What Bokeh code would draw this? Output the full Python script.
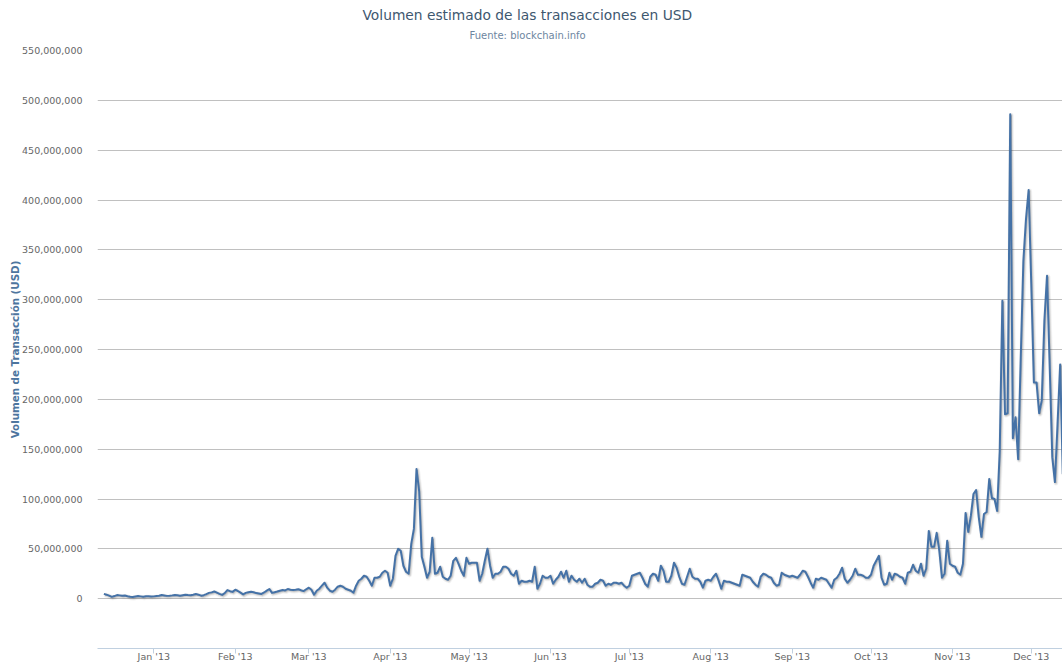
import numpy as np
import pandas as pd
from bokeh.plotting import figure
from bokeh.models import (Range1d, FixedTicker, NumeralTickFormatter,
                          DatetimeTickFormatter, MonthsTicker, Title)
from bokeh.embed import file_html
from bokeh.resources import INLINE

# Daily estimated transaction volume, millions of USD
start_date = "2012-12-13"
dec_2012 = [4.8, 4.0, 3.0, 1.8, 2.6, 3.6, 3.3, 2.9, 3.2, 2.5, 1.9, 1.7, 2.2, 2.6, 2.3, 2.0, 2.5, 2.4, 2.2]
jan_2013 = [2.3, 2.6, 2.9, 3.6, 3.2, 2.8, 3.0, 3.3, 3.7, 3.4, 3.0, 3.5, 4.0, 3.6, 3.4, 3.9, 4.6, 4.0, 3.0, 3.5,
            4.5, 5.8, 6.3, 7.2, 6.0, 4.8, 3.8, 5.5, 8.6, 7.5, 6.8]
feb_2013 = [9.0, 7.7, 6.0, 4.3, 5.8, 6.5, 7.0, 6.4, 5.6, 5.2, 4.7, 6.2, 8.0, 9.7, 5.8, 6.5, 7.2, 8.0, 8.7, 8.2,
            9.7, 9.0, 8.6, 8.9, 9.5, 8.4, 7.6, 9.4]
mar_2013 = [11, 9, 4, 8, 10, 13, 16, 11, 8, 7, 9, 12, 13, 12, 10, 9, 8, 6, 13, 18,
            20, 23, 22, 18, 13, 21, 21, 22, 26, 28, 26]
apr_2013 = [13, 20, 43, 50, 48, 33, 27, 25, 55, 70, 130, 108, 42, 32, 21, 27, 61, 25, 26, 32,
            22, 20, 19, 23, 38, 41, 35, 28, 23, 41]
may_2013 = [35, 36, 36, 36, 18, 25, 38, 50, 33, 21, 25, 25, 27, 32, 32, 30, 25, 23, 28, 15,
            18, 17, 17, 18, 17, 32, 10, 15, 23, 21, 21]
jun_2013 = [23, 15, 19, 22, 27, 21, 28, 17, 23, 19, 17, 20, 16, 20, 14, 12, 12, 15, 16, 19,
            18, 13, 15, 14, 16, 16, 15, 16, 13, 11]
jul_2013 = [13, 23, 24, 25, 26, 21, 15, 12, 22, 25, 24, 18, 33, 28, 17, 17, 23, 36, 31, 22,
            15, 14, 22, 30, 22, 20, 20, 17, 11, 18, 19]
aug_2013 = [18, 22, 25, 18, 10, 18, 17, 17, 16, 15, 14, 13, 24, 23, 22, 21, 17, 14, 12, 22,
            25, 24, 22, 21, 16, 13, 14, 26, 24, 23, 22]
sep_2013 = [23, 22, 21, 24, 28, 27, 22, 16, 11, 20, 19, 21, 20, 19, 15, 11, 19, 21, 25, 31,
            20, 16, 19, 23, 30, 24, 24, 23, 21, 21]
oct_2013 = [24, 33, 38, 43, 21, 14, 15, 26, 19, 25, 24, 22, 21, 15, 26, 27, 34, 28, 26, 35,
            23, 30, 68, 52, 52, 66, 48, 21, 25, 58, 35]
nov_2013 = [33, 32, 26, 24, 35, 86, 67, 83, 105, 109, 82, 62, 85, 87, 120, 101, 100, 88, 148, 299,
            185, 186, 486, 161, 182, 140, 242, 339, 381, 410]
dec_2013 = [316, 217, 217, 186, 199, 279, 324, 235, 142, 117, 175, 235, 125]

y_ticks = [0, 50e6, 100e6, 150e6, 200e6, 250e6, 300e6, 350e6, 400e6, 450e6, 500e6, 550e6]

title_text = "Volumen estimado de las transacciones en USD"
subtitle_text = "Fuente: blockchain.info"
y_label = "Volumen de Transacción (USD)"

volume_musd = (dec_2012 + jan_2013 + feb_2013 + mar_2013 + apr_2013 + may_2013 + jun_2013 +
               jul_2013 + aug_2013 + sep_2013 + oct_2013 + nov_2013 + dec_2013)
dates = pd.date_range(start_date, periods=len(volume_musd), freq="D")
vol = np.array(volume_musd, dtype=float) * 1e6

FONT = "DejaVu Sans"

p = figure(width=1062, height=665, x_axis_type="datetime",
           output_backend="svg", toolbar_location=None,
           x_range=Range1d(pd.Timestamp("2012-12-10 13:40"), pd.Timestamp("2013-12-12 21:20")),
           y_range=Range1d(-50e6, 550e6),
           min_border_left=97, min_border_right=0, min_border_bottom=17, min_border_top=50,
           title=title_text)
p.background_fill_color = "white"
p.border_fill_color = "white"
p.outline_line_color = None

# main title (outer)
p.title.align = "left"
p.title.offset = 265
p.title.text_font = FONT
p.title.text_font_size = "13.8px"
p.title.text_font_style = "normal"
p.title.text_color = "#3E576F"
p.title.standoff = -10

# subtitle (closest to the frame)
sub = Title(text=subtitle_text, align="left", offset=372, text_font=FONT,
            text_font_size="10px", text_font_style="normal",
            text_color="#6D869F", standoff=20)
p.add_layout(sub, "above")

# grid
p.xgrid.grid_line_color = None
p.ygrid.grid_line_color = "#C0C0C0"
p.ygrid.grid_line_width = 1

# y axis
p.yaxis.ticker = FixedTicker(ticks=y_ticks)
p.yaxis.formatter = NumeralTickFormatter(format="0,0")
p.yaxis.axis_line_color = None
p.yaxis.major_tick_line_color = None
p.yaxis.minor_tick_line_color = None
p.yaxis.major_label_standoff = 9
p.yaxis.major_label_text_font = FONT
p.yaxis.major_label_text_font_size = "9.5px"
p.yaxis.major_label_text_color = "#666666"
p.yaxis.axis_label = y_label
p.yaxis.axis_label_text_font = FONT
p.yaxis.axis_label_text_font_size = "10.3px"
p.yaxis.axis_label_text_font_style = "bold"
p.yaxis.axis_label_text_color = "#4D759E"
p.yaxis.axis_label_standoff = -2

# x axis
p.xaxis.ticker = MonthsTicker(months=list(range(1, 13)))
p.xaxis.formatter = DatetimeTickFormatter(days="%b '%y", months="%b '%y", years="%b '%y")
p.xaxis.axis_line_color = "#C0D0E0"
p.xaxis.major_tick_line_color = "#C0D0E0"
p.xaxis.major_tick_out = 5
p.xaxis.major_tick_in = 0
p.xaxis.minor_tick_line_color = None
p.xaxis.major_label_standoff = -3
p.xaxis.major_label_text_font = FONT
p.xaxis.major_label_text_font_size = "9.5px"
p.xaxis.major_label_text_color = "#666666"

# soft shadow under the line (offset by ~1px right/down)
shadow_x = dates + pd.Timedelta(hours=9)
shadow_y = vol - 1.0e6
for w, a in [(5, 0.05), (3, 0.10), (1, 0.15)]:
    p.line(shadow_x, shadow_y, line_color="black", line_alpha=a, line_width=w, line_join="round")

p.line(dates, vol, line_color="#4572A7", line_width=2, line_join="round")

open("out.html", "w").write(file_html(p, INLINE))
